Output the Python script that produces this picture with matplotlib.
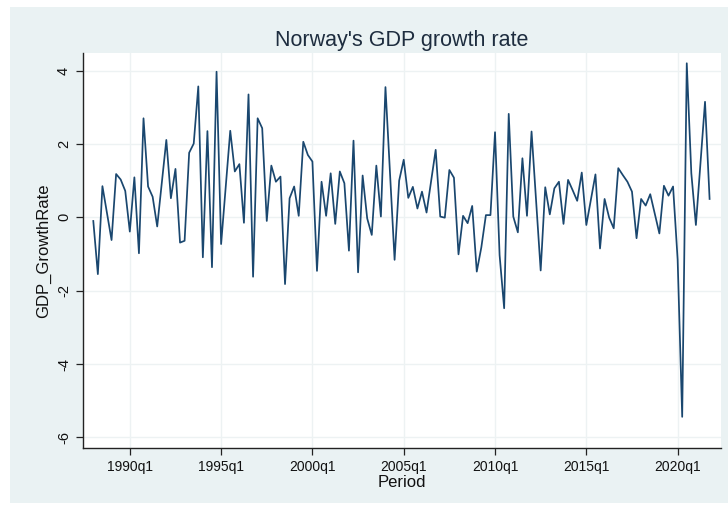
import numpy as np
import matplotlib.pyplot as plt
from matplotlib.patches import Rectangle

plt.rcParams['font.family'] = ['Liberation Sans', 'DejaVu Sans']

# quarterly GDP growth rate, 1988q1 .. 2021q4
start_year = 1988
growth = [-0.10, -1.55, 0.85, 0.12, -0.62, 1.18, 1.03, 0.72, -0.39, 1.09,
          -0.98, 2.70, 0.84, 0.56, -0.25, 0.93, 2.11, 0.52, 1.32, -0.69,
          -0.64, 1.76, 2.01, 3.57, -1.09, 2.35, -1.36, 3.97, -0.73, 0.82,
          2.36, 1.25, 1.45, -0.15, 3.35, -1.62, 2.70, 2.43, -0.10, 1.41,
          0.97, 1.11, -1.82, 0.52, 0.84, 0.04, 2.06, 1.70, 1.52, -1.46,
          0.97, 0.04, 1.20, -0.18, 1.25, 0.93, -0.91, 2.09, -1.50, 1.14,
          -0.03, -0.48, 1.41, 0.02, 3.55, 1.19, -1.16, 1.00, 1.57, 0.53,
          0.83, 0.24, 0.70, 0.13, 0.99, 1.84, 0.02, -0.01, 1.29, 1.08,
          -1.01, 0.04, -0.16, 0.31, -1.48, -0.82, 0.06, 0.06, 2.32, -1.03,
          -2.48, 2.82, 0.02, -0.41, 1.61, 0.04, 2.34, 0.45, -1.45, 0.82,
          0.08, 0.79, 0.97, -0.18, 1.02, 0.74, 0.45, 1.22, -0.21, 0.48,
          1.17, -0.85, 0.50, -0.01, -0.30, 1.34, 1.15, 0.97, 0.70, -0.57,
          0.50, 0.32, 0.63, 0.10, -0.44, 0.86, 0.59, 0.84, -1.15, -5.44,
          4.20, 1.20, -0.21, 1.46, 3.15, 0.50]
tick_years = [1990, 1995, 2000, 2005, 2010, 2015, 2020]
tick_labels = ['%dq1' % y for y in tick_years]
y_ticks = [-6, -4, -2, 0, 2, 4]

period = start_year + np.arange(len(growth)) / 4.0

bg = '#eaf2f3'
navy = '#1a476f'

fig = plt.figure(figsize=(7.28, 5.08), dpi=100, facecolor='white')
fig.patches.append(Rectangle((10/728, 5/508), 1 - 10/728, 1 - 12/508,
                             transform=fig.transFigure, facecolor=bg,
                             edgecolor='none', zorder=-10))

ax = fig.add_axes([82.7/728, 1 - 448/508, (721 - 82.7)/728, (448 - 53)/508])
ax.set_zorder(5)
ax.set_facecolor('white')
ax.plot(period, growth, color=navy, lw=1.25)

ax.set_xlim(1987.42, 2022.375)
ax.set_ylim(-6.29, 4.48)
ax.set_xticks(tick_years)
ax.set_xticklabels(tick_labels, fontsize=10)
ax.set_yticks(y_ticks)
ax.set_yticklabels([str(v) for v in y_ticks], fontsize=10.5, rotation=90, va='center')
ax.grid(True, color='#edf2f3', lw=1.0)
ax.set_axisbelow(True)

for s in ['top', 'right']:
    ax.spines[s].set_visible(False)
for s in ['left', 'bottom']:
    ax.spines[s].set_color('#222222')
    ax.spines[s].set_linewidth(1.0)
ax.tick_params(length=5, width=0.9, color='#222222', labelcolor='#111111')

ax.set_xlabel('Period', fontsize=12, labelpad=1, color='#111111')
ax.set_ylabel('GDP_GrowthRate', fontsize=12, labelpad=4, color='#111111')
ax.set_title("Norway's GDP growth rate", fontsize=15.5, color='#1e2d3f', pad=5)

fig.savefig('out.png', dpi=100, facecolor='white')
